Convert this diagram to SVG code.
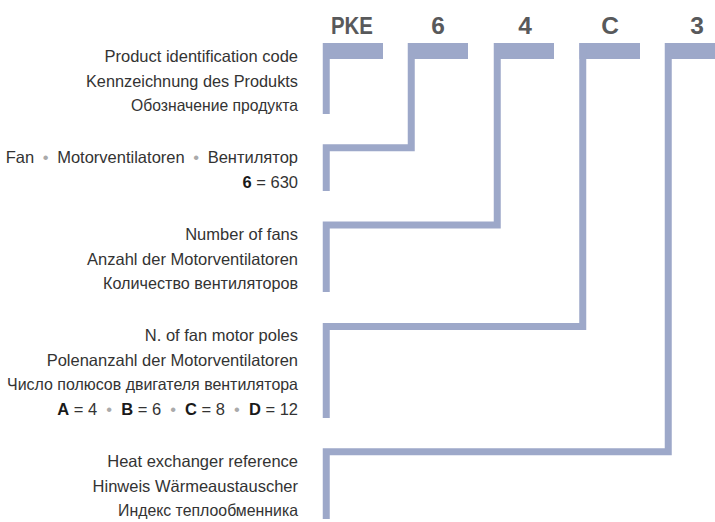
<svg xmlns="http://www.w3.org/2000/svg" width="715" height="522" viewBox="0 0 715 522">
<style>
.bar{fill:#9da8c9}
.ln{fill:none;stroke:#9da8c9;stroke-width:7;stroke-linejoin:miter}
.hd{font-family:"Liberation Sans",Arial,sans-serif;font-weight:bold;font-size:24.5px;fill:#58595b;text-anchor:middle}
.tx{font-family:"Liberation Sans",Arial,sans-serif;font-size:16.5px;fill:#333333;text-anchor:end}
.b{font-weight:bold;fill:#1a1a1a}
.dot{fill:#aaaaaa}
</style>
<rect width="715" height="522" fill="#ffffff"/>
<g id="header">
<text class="hd" x="352" y="34" textLength="42" lengthAdjust="spacingAndGlyphs">PKE</text>
<text class="hd" x="438" y="34">6</text>
<text class="hd" x="525" y="34">4</text>
<text class="hd" x="610" y="34">C</text>
<text class="hd" x="697" y="34">3</text>
</g>
<g id="connectors">
<rect class="bar" x="323" y="43" width="60" height="16"/>
<rect class="bar" x="408" y="43" width="60" height="16"/>
<rect class="bar" x="494" y="43" width="60" height="16"/>
<rect class="bar" x="579.5" y="43" width="60.5" height="16"/>
<rect class="bar" x="665" y="43" width="50" height="16"/>
<path class="ln" d="M326.25 43 V114"/>
<path class="ln" d="M411.25 43 V147.75 H326.25 V191"/>
<path class="ln" d="M497.25 43 V225 H326.25 V292"/>
<path class="ln" d="M582.75 43 V326.5 H326.25 V418"/>
<path class="ln" d="M668.25 43 V451.75 H326.25 V519"/>
</g>
<g id="node-product">
<text class="tx" x="298" y="62">Product identification code</text>
<text class="tx" x="298" y="86.5" textLength="212" lengthAdjust="spacingAndGlyphs">Kennzeichnung des Produkts</text>
<text class="tx" x="298" y="111" textLength="167" lengthAdjust="spacingAndGlyphs">Обозначение продукта</text>
</g>
<g id="node-fan">
<text class="tx" x="298" y="163">Fan<tspan dx="4"> </tspan><tspan class="dot">•</tspan><tspan dx="4"> Motorventilatoren</tspan><tspan dx="4"> </tspan><tspan class="dot">•</tspan><tspan dx="4"> Вентилятор</tspan></text>
<text class="tx" x="298" y="187.5"><tspan class="b">6</tspan> = 630</text>
</g>
<g id="node-number">
<text class="tx" x="298" y="240">Number of fans</text>
<text class="tx" x="298" y="264.5">Anzahl der Motorventilatoren</text>
<text class="tx" x="298" y="289" textLength="195" lengthAdjust="spacingAndGlyphs">Количество вентиляторов</text>
</g>
<g id="node-poles">
<text class="tx" x="298" y="341">N. of fan motor poles</text>
<text class="tx" x="298" y="365.5">Polenanzahl der Motorventilatoren</text>
<text class="tx" x="298" y="390" textLength="291" lengthAdjust="spacingAndGlyphs">Число полюсов двигателя вентилятора</text>
<text class="tx" x="298" y="414.5"><tspan class="b">A</tspan> = 4<tspan dx="4.5"> </tspan><tspan class="dot">•</tspan><tspan dx="4.5"> </tspan><tspan class="b">B</tspan> = 6<tspan dx="4.5"> </tspan><tspan class="dot">•</tspan><tspan dx="4.5"> </tspan><tspan class="b">C</tspan> = 8<tspan dx="4.5"> </tspan><tspan class="dot">•</tspan><tspan dx="4.5"> </tspan><tspan class="b">D</tspan> = 12</text>
</g>
<g id="node-exchanger">
<text class="tx" x="298" y="467">Heat exchanger reference</text>
<text class="tx" x="298" y="491.5">Hinweis Wärmeaustauscher</text>
<text class="tx" x="298" y="516" textLength="180" lengthAdjust="spacingAndGlyphs">Индекс теплообменника</text>
</g>
</svg>
